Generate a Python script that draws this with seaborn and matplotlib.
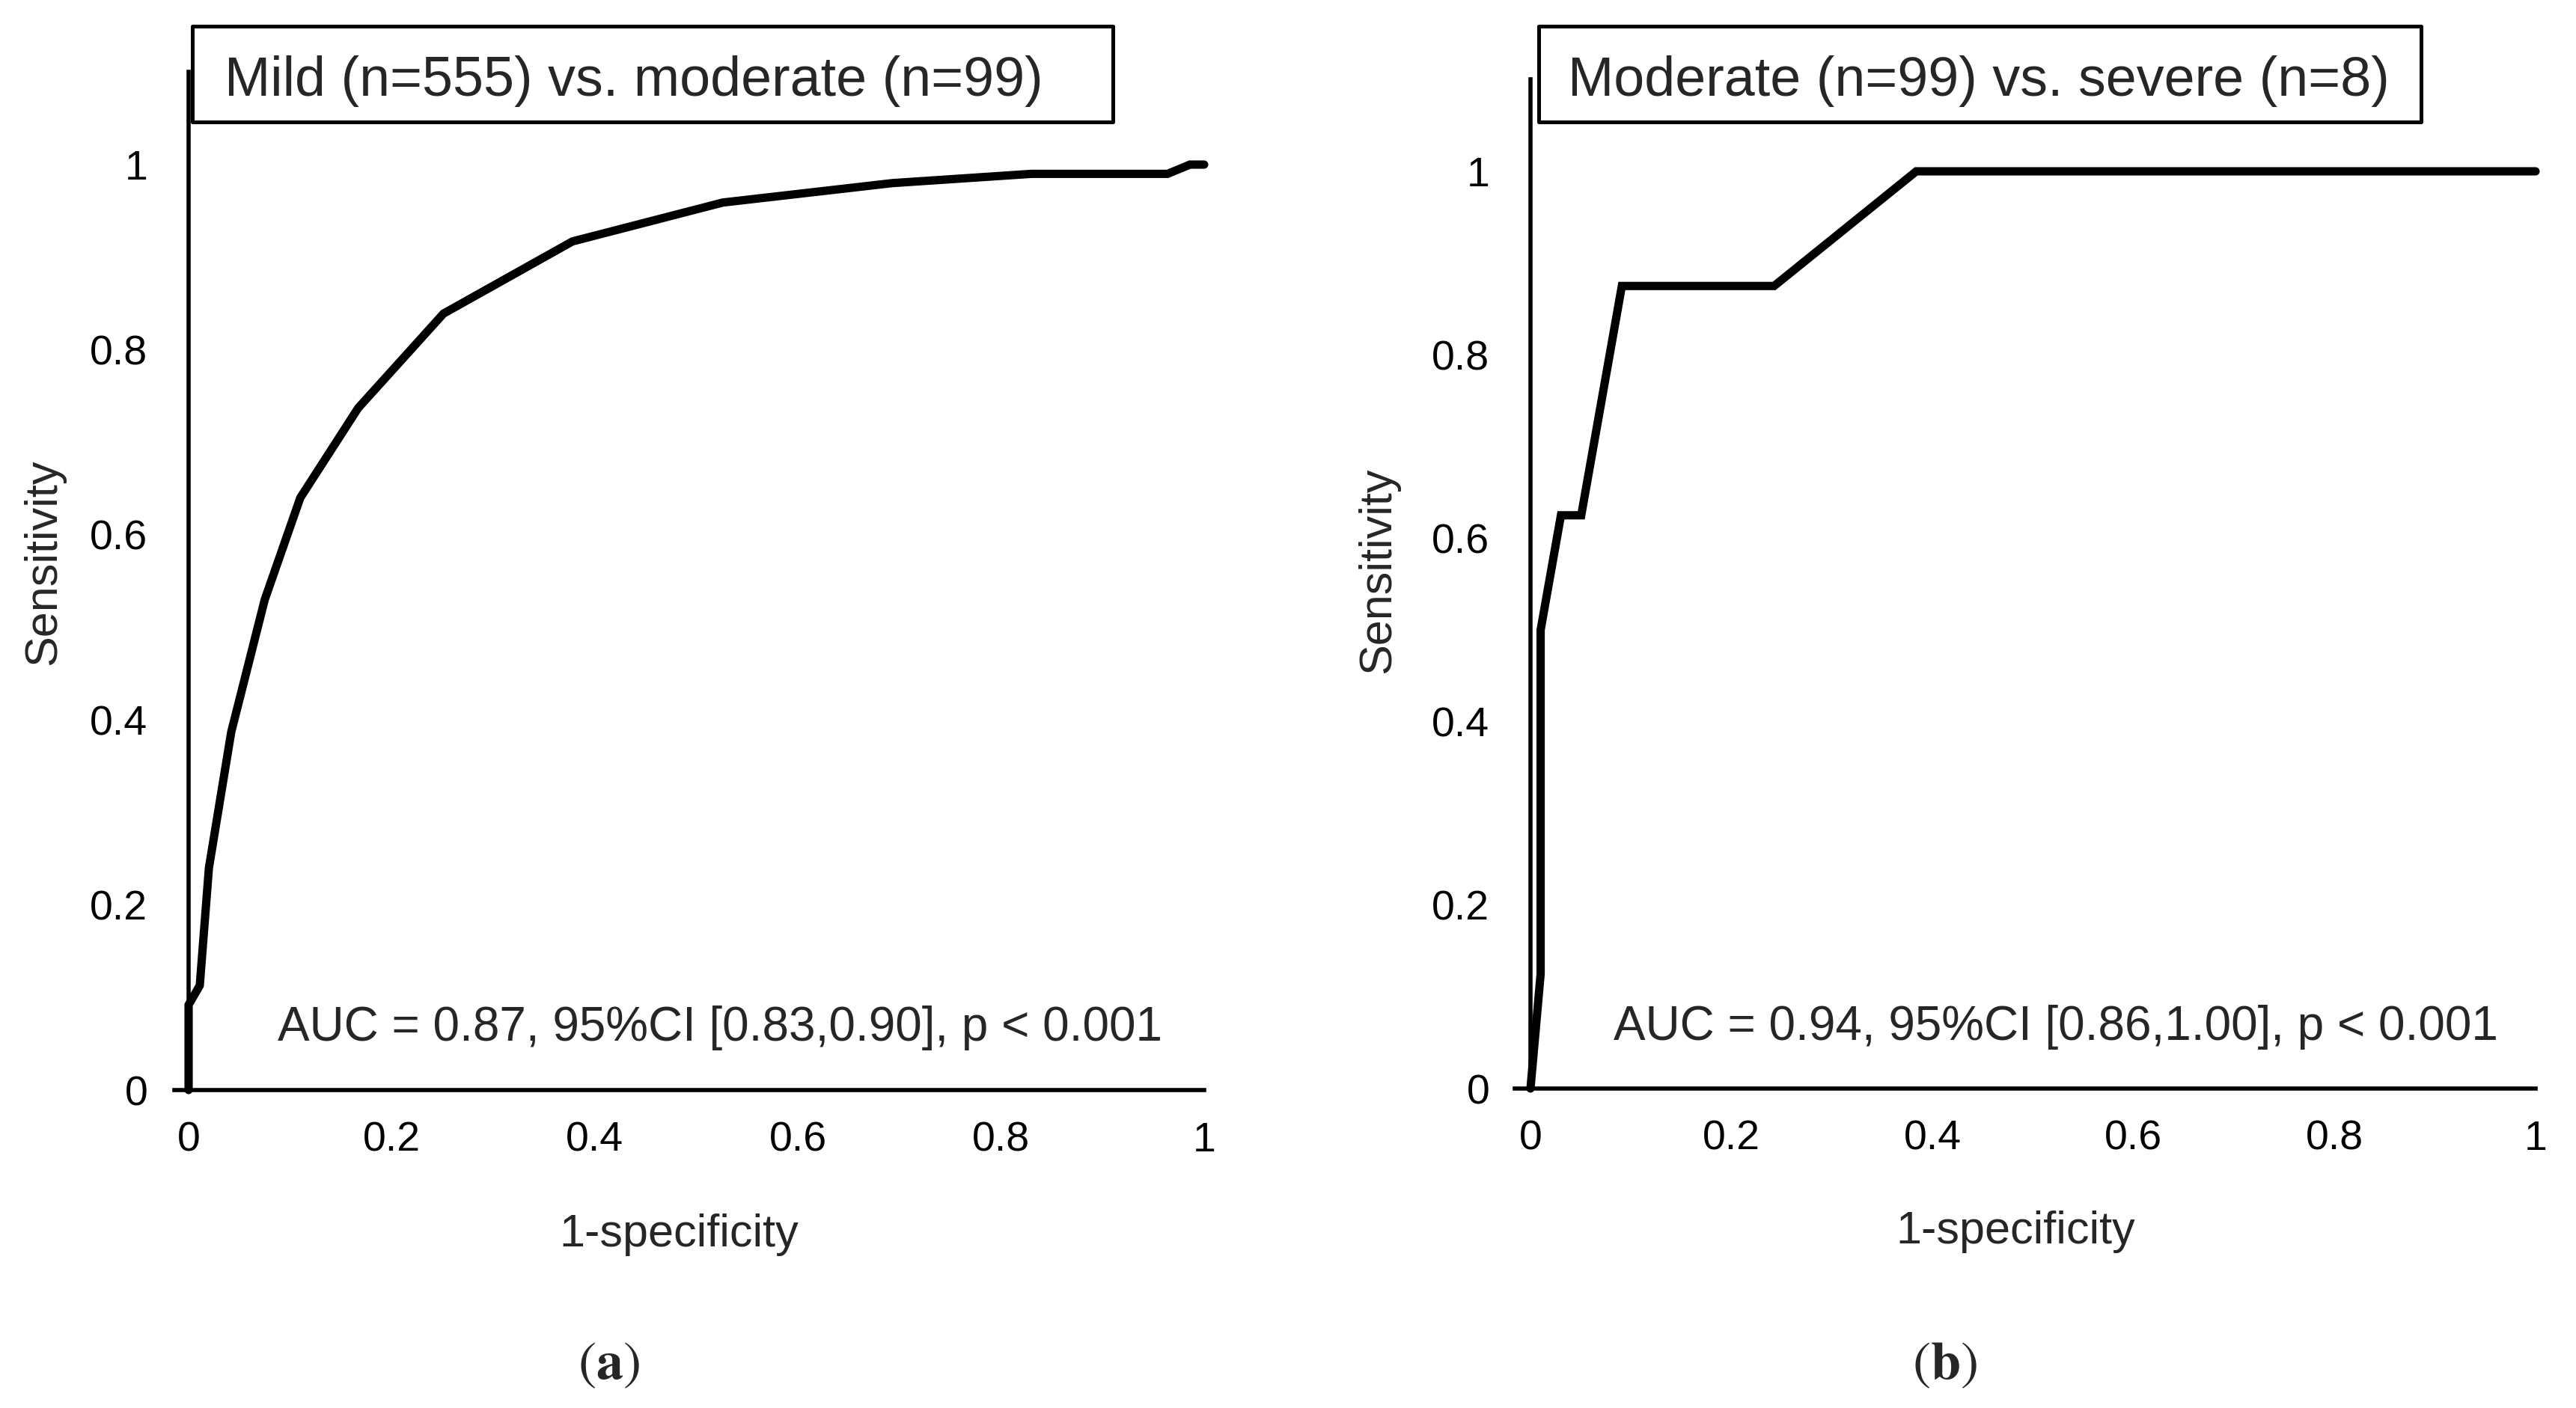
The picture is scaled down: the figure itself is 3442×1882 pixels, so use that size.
import numpy as np
import pandas as pd
import matplotlib
matplotlib.use('Agg')
import matplotlib.pyplot as plt
import matplotlib.patches as mpatches
from matplotlib.ticker import FuncFormatter
import seaborn as sns

# curva ROC (a): leve vs moderada
fpr_a = [0.0, 0.0, 0.011, 0.020, 0.042, 0.075, 0.110, 0.167, 0.251, 0.378,
         0.526, 0.693, 0.830, 0.964, 0.986, 1.0]
tpr_a = [0.0, 0.092, 0.113, 0.240, 0.387, 0.530, 0.640, 0.737, 0.839, 0.917,
         0.959, 0.980, 0.990, 0.990, 1.0, 1.0]

# curva ROC (b): moderada vs severa
fpr_b = [0.0, 0.0101, 0.0101, 0.0303, 0.0505, 0.0909, 0.2424, 0.3838, 1.0]
tpr_b = [0.0, 0.125, 0.500, 0.625, 0.625, 0.875, 0.875, 1.0, 1.0]

titles = ["Mild (n=555) vs. moderate (n=99)", "Moderate (n=99) vs. severe (n=8)"]
auc_texts = ["AUC = 0.87, 95%CI [0.83,0.90], p < 0.001",
             "AUC = 0.94, 95%CI [0.86,1.00], p < 0.001"]
panel_tags = [r"$(\mathbf{a})$", r"$(\mathbf{b})$"]
ticks = [0, 0.2, 0.4, 0.6, 0.8, 1.0]

sns.set_style("white")
plt.rcParams['font.family'] = ['Liberation Sans', 'DejaVu Sans']
plt.rcParams['mathtext.fontset'] = 'stix'

W, H = 3442, 1882
fig = plt.figure(figsize=(W / 100, H / 100), dpi=100)

# posiciones en pixeles (medidas sobre la referencia)
ax_a = fig.add_axes([233 / W, (H - 1457) / H, 1376 / W, 1.1 * 1237 / H])
ax_b = fig.add_axes([2024 / W, (H - 1455) / H, 1364 / W, 1.1 * 1226 / H])

setup = [
    (ax_a, fpr_a, tpr_a, -19 / 1357, (257, 1487, 300), 0.49, (-0.127, 0.519), 813),
    (ax_b, fpr_b, tpr_b, -21 / 1343, (2056, 3235, 2095), 0.491, (-0.134, 0.514), 2598),
]

fmt = FuncFormatter(lambda v, p: f"{v:g}")

for i, (ax, fx, fy, xmin, box, xl_x, yl_xy, tag_x) in enumerate(setup):
    df = pd.DataFrame({"fpr": fx, "tpr": fy})
    sns.lineplot(data=df, x="fpr", y="tpr", sort=False, estimator=None,
                 color="black", linewidth=8, ax=ax)
    line = ax.lines[0]
    line.set_clip_on(False)
    line.set_solid_capstyle('round')
    line.set_solid_joinstyle('miter')

    ax.set_xlim(xmin, 1)
    ax.set_ylim(0, 1.1)
    ax.set_xticks(ticks)
    ax.set_yticks(ticks)
    ax.xaxis.set_major_formatter(fmt)
    ax.yaxis.set_major_formatter(fmt)

    for s in ["top", "right"]:
        ax.spines[s].set_visible(False)
    ax.spines["left"].set_position(("data", 0))
    for s in ["left", "bottom"]:
        ax.spines[s].set_linewidth(4)
        ax.spines[s].set_color("black")

    ax.tick_params(axis="x", direction="in", length=15, width=4, pad=30,
                   labelsize=40, colors="black")
    ax.tick_params(axis="y", direction="out", length=13.5, width=4, pad=26,
                   labelsize=40, colors="black")

    ax.set_xlabel("1-specificity", fontsize=44, va="center")
    ax.xaxis.set_label_coords(xl_x, -0.142)
    ax.set_ylabel("Sensitivity", fontsize=44, va="center")
    ax.yaxis.set_label_coords(*yl_xy)

    ax.text(0.523, 0.053, auc_texts[i], fontsize=46, ha="center", va="baseline")

    # cuadro del titulo
    x0, x1, tx = box
    rect = mpatches.Rectangle((x0 / W, 1 - 163 / H), (x1 - x0) / W, 128 / H,
                              transform=fig.transFigure, fill=False,
                              edgecolor="black", linewidth=3.6, joinstyle="round")
    fig.add_artist(rect)
    fig.text(tx / W, 1 - 128 / H, titles[i], fontsize=53, ha="left", va="baseline")

    fig.text(tag_x / W, 1 - 1825 / H, panel_tags[i], fontsize=52,
             ha="center", va="center")

plt.savefig("out.png", dpi=100)
plt.close()
